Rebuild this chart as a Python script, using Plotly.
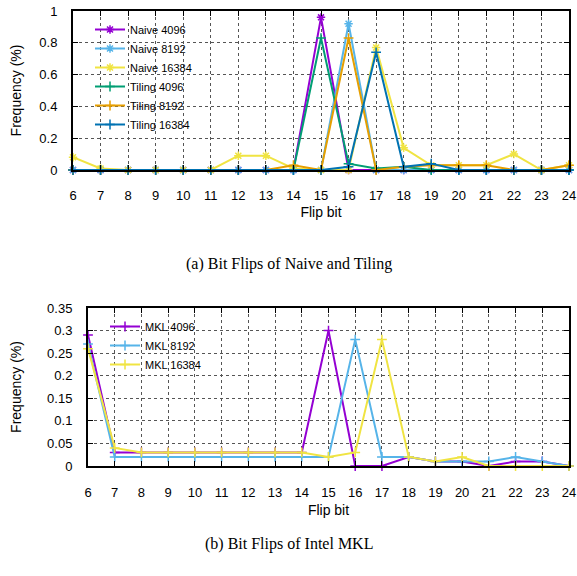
import plotly.graph_objects as go

bits = list(range(6, 25))

# (a) Naive and Tiling
naive_4096  = [0, 0, 0, 0, 0, 0, 0, 0, 0, 0.96, 0, 0, 0, 0, 0, 0, 0, 0, 0]
naive_8192  = [0, 0, 0, 0, 0, 0, 0, 0, 0, 0, 0.92, 0, 0, 0, 0, 0, 0, 0, 0]
naive_16384 = [0.08, 0.01, 0, 0, 0, 0, 0.09, 0.09, 0.01, 0, 0, 0.77, 0.14, 0.03, 0.03, 0.03, 0.10, 0, 0.03]
tiling_4096 = [0, 0, 0, 0, 0, 0, 0, 0, 0, 0.83, 0.04, 0.01, 0.02, 0, 0, 0, 0, 0, 0]
tiling_8192 = [0, 0, 0, 0, 0, 0, 0, 0, 0.03, 0, 0.83, 0, 0.02, 0.03, 0.03, 0.03, 0, 0, 0.03]
tiling_16384 = [0, 0, 0, 0, 0, 0, 0, 0, 0, 0, 0.02, 0.74, 0.02, 0.04, 0, 0, 0, 0, 0]

# (b) Intel MKL
mkl_4096  = [0.29, 0.03, 0.03, 0.03, 0.03, 0.03, 0.03, 0.03, 0.03, 0.30, 0, 0, 0.02, 0.01, 0.01, 0, 0.01, 0.01, 0]
mkl_8192  = [0.27, 0.02, 0.02, 0.02, 0.02, 0.02, 0.02, 0.02, 0.02, 0.02, 0.28, 0.02, 0.02, 0.01, 0.01, 0.01, 0.02, 0.01, 0]
mkl_16384 = [0.26, 0.04, 0.03, 0.03, 0.03, 0.03, 0.03, 0.03, 0.03, 0.02, 0.03, 0.28, 0.02, 0.01, 0.02, 0, 0, 0, 0]

top_yticks = [0, 0.2, 0.4, 0.6, 0.8, 1]
top_yticktext = ["0", "0.2", "0.4", "0.6", "0.8", "1"]
bot_yticks = [0, 0.05, 0.1, 0.15, 0.2, 0.25, 0.3, 0.35]
bot_yticktext = ["0", "0.05", "0.1", "0.15", "0.2", "0.25", "0.3", "0.35"]

PURPLE = "#9400D3"
LBLUE = "#56B4E9"
YELLOW = "#F0E442"
GREEN = "#009E73"
ORANGE = "#E69F00"
DBLUE = "#0072B2"

fig = go.Figure()

top_series = [
    ("Naive 4096", naive_4096, PURPLE, "asterisk-open"),
    ("Naive 8192", naive_8192, LBLUE, "asterisk-open"),
    ("Naive 16384", naive_16384, YELLOW, "asterisk-open"),
    ("Tiling 4096", tiling_4096, GREEN, "cross-thin-open"),
    ("Tiling 8192", tiling_8192, ORANGE, "cross-thin-open"),
    ("Tiling 16384", tiling_16384, DBLUE, "cross-thin-open"),
]
for name, vals, col, sym in top_series:
    fig.add_trace(go.Scatter(
        x=bits, y=vals, name=name, mode="lines+markers",
        line=dict(color=col, width=2),
        marker=dict(symbol=sym, size=7, color=col, line=dict(color=col, width=1.5)),
        xaxis="x", yaxis="y", legend="legend", cliponaxis=False,
    ))

bottom_series = [
    ("MKL 4096", mkl_4096, PURPLE),
    ("MKL 8192", mkl_8192, LBLUE),
    ("MKL 16384", mkl_16384, YELLOW),
]
for name, vals, col in bottom_series:
    fig.add_trace(go.Scatter(
        x=bits, y=vals, name=name, mode="lines+markers",
        line=dict(color=col, width=2),
        marker=dict(symbol="cross-thin-open", size=7, color=col, line=dict(color=col, width=1.5)),
        xaxis="x2", yaxis="y2", legend="legend2", cliponaxis=False,
    ))

SANS = "Liberation Sans, Arial, sans-serif"
SERIF = "Liberation Serif, Times New Roman, serif"
tickfont = dict(family=SANS, size=13, color="black")
titlefont = dict(family=SANS, size=14, color="black")
axis_common = dict(
    showline=True, linecolor="black", linewidth=2, mirror="ticks",
    ticks="inside", ticklen=5, tickcolor="black", tickwidth=1,
    showgrid=True, gridcolor="#555555", griddash="dot", gridwidth=1,
    zeroline=False, tickfont=tickfont,
)

# plot area: x 73..569, y 11..466 (pixels)
L, R, T, B = 73, 8, 11, 110
PH = 576 - T - B
PW = 577 - L - R

def py(px):
    return (576 - B - px) / PH

def pxf(px):
    return (px - L) / PW

fig.update_layout(
    width=577, height=576,
    margin=dict(l=L, r=R, t=T, b=B, autoexpand=False),
    paper_bgcolor="white", plot_bgcolor="white",
    showlegend=True,
    xaxis=dict(domain=[0, 1], anchor="y", range=[6, 24],
               tickmode="array", tickvals=bits, ticktext=[str(b) for b in bits],
               ticklabelstandoff=12,
               title=dict(text="Flip bit", font=titlefont, standoff=6), **axis_common),
    yaxis=dict(domain=[py(170), py(11)], anchor="x", range=[0, 1],
               tickmode="array", tickvals=top_yticks, ticktext=top_yticktext,
               ticklabelstandoff=11,
               title=dict(text="Frequency (%)", font=titlefont, standoff=14), **axis_common),
    xaxis2=dict(domain=[pxf(88), 1], anchor="y2", range=[6, 24],
                tickmode="array", tickvals=bits, ticktext=[str(b) for b in bits],
                ticklabelstandoff=13,
                title=dict(text="Flip bit", font=titlefont, standoff=7), **axis_common),
    yaxis2=dict(domain=[0, py(308)], anchor="x2", range=[0, 0.35],
                tickmode="array", tickvals=bot_yticks, ticktext=bot_yticktext,
                ticklabelstandoff=11,
                title=dict(text="Frequency (%)", font=titlefont, standoff=22), **axis_common),
    legend=dict(x=pxf(90), y=py(15), xanchor="left", yanchor="top",
                bgcolor="rgba(0,0,0,0)", font=dict(family=SANS, size=11, color="black"),
                tracegroupgap=0, itemwidth=30),
    legend2=dict(x=pxf(105), y=py(312), xanchor="left", yanchor="top",
                 bgcolor="rgba(0,0,0,0)", font=dict(family=SANS, size=11, color="black"),
                 tracegroupgap=0, itemwidth=30),
    annotations=[
        dict(text="(a) Bit Flips of Naive and Tiling", x=(288.5 - L) / PW, y=py(264),
             xref="paper", yref="paper", showarrow=False, yanchor="middle",
             font=dict(family=SERIF, size=16, color="black")),
        dict(text="(b) Bit Flips of Intel MKL", x=(288.5 - L) / PW, y=py(544),
             xref="paper", yref="paper", showarrow=False, yanchor="middle",
             font=dict(family=SERIF, size=16, color="black")),
    ],
)

fig.write_html("out.html", config={"displayModeBar": False},
               post_script="document.body.style.margin='0';")
